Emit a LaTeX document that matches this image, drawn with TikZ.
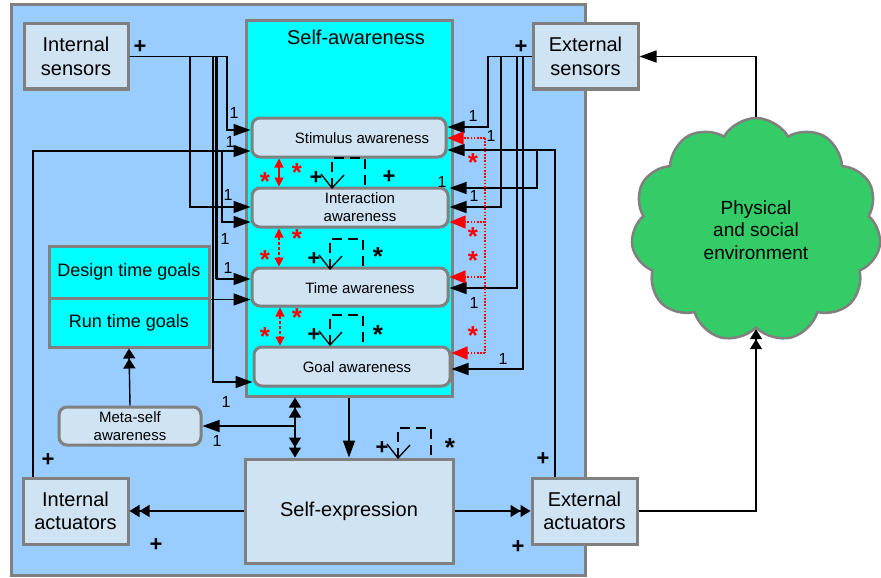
\documentclass[tikz,border=0pt]{standalone}
\usepackage{fontspec}
\setmainfont{Liberation Sans}
\usetikzlibrary{arrows.meta,shapes.symbols}
\definecolor{outerblue}{RGB}{153,204,255}
\definecolor{boxblue}{RGB}{207,227,243}
\definecolor{bordergray}{RGB}{128,128,128}
\definecolor{cloudgreen}{RGB}{51,204,102}
\definecolor{cyanfill}{RGB}{0,255,255}
\begin{document}
\begin{tikzpicture}[x=1pt,y=-1pt,
  frame/.style={draw=bordergray, line width=3pt, inner sep=0pt},
  box/.style={frame, fill=boxblue, align=center, font=\fontsize{20}{23.5}\selectfont},
  aw/.style={frame, fill=boxblue, rounded corners=8pt},
  awt/.style={font=\fontsize{15}{18}\selectfont, align=center, inner sep=0pt},
  conn/.style={line width=1.4pt},
  arr/.style={conn, -{Triangle[length=17pt,width=12pt]}},
  arrd/.style={conn, -{Triangle[length=10pt,width=12pt]Triangle[length=10pt,width=12pt]}},
  arrdd/.style={conn, {Triangle[length=10pt,width=12pt]Triangle[length=10pt,width=12pt]}-{Triangle[length=10pt,width=12pt]Triangle[length=10pt,width=12pt]}},
  rarr/.style={red, line width=1.2pt, dash pattern=on 1.6pt off 1.6pt, -{Triangle[length=16pt,width=13pt]}},
  rline/.style={red, line width=1.2pt, dash pattern=on 1.6pt off 1.6pt},
  rdarr/.style={red, line width=1.2pt, {Triangle[length=9pt,width=9pt]}-{Triangle[length=9pt,width=9pt]}},
  one/.style={font=\fontsize{16}{16}\selectfont, inner sep=0pt},
  plus/.style={font=\bfseries\fontsize{22}{22}\selectfont, inner sep=0pt},
  rstar/.style={text=red, font=\bfseries\fontsize{26}{26}\selectfont, inner sep=0pt},
  bstar/.style={font=\bfseries\fontsize{26}{26}\selectfont, inner sep=0pt},
  fbmark/.pic={
    \draw[line width=1.3pt] (-11,-14) -- (0,0) -- (12,-13);
    \draw[line width=1.1pt, dash pattern=on 10pt off 6pt] (0,0) -- (0,-30) -- (33,-30) -- (33,0);
    \node[plus] (-p) at (-16,-10) {+};
  }
]
\useasboundingbox (0,0) rectangle (881,578);

% containers
\node[frame, fill=outerblue, minimum width=574pt, minimum height=570pt] (outer) at (298,290) {};
\node[frame, fill=cyanfill, minimum width=206pt, minimum height=375pt] (sa) at (349,208.5) {};
\node[font=\fontsize{20}{24}\selectfont, inner sep=0pt] (satitle) at (356,37) {Self-awareness};

% boxes
\node[box, minimum width=104pt, minimum height=65pt] (isens) at (76,56.5) {Internal\\sensors};
\node[box, minimum width=105pt, minimum height=65pt] (esens) at (585.5,56.5) {External\\sensors};
\node[box, minimum width=105pt, minimum height=66pt] (iact) at (75.5,511) {Internal\\actuators};
\node[box, minimum width=105pt, minimum height=66pt] (eact) at (584.5,511) {External\\actuators};
\node[box, minimum width=208pt, minimum height=104pt, font=\fontsize{20}{24}\selectfont] (sexp) at (349,511) {Self-expression};
\node[frame, fill=cyanfill, minimum width=160pt, minimum height=52pt, font=\fontsize{18}{22}\selectfont] (dgoal) at (129,272) {Design time goals};
\node[frame, fill=cyanfill, minimum width=160pt, minimum height=49pt, font=\fontsize{18}{22}\selectfont] (rgoal) at (129,322.5) {Run time goals};

% awareness boxes
\node[aw, minimum width=194pt, minimum height=39pt] (stim) at (349,137.5) {};
\node[awt] (stimt) at (362,138) {Stimulus awareness};
\node[aw, minimum width=196pt, minimum height=39pt] (inter) at (350,207.5) {};
\node[awt] (intert) at (360,207.5) {Interaction\\awareness};
\node[aw, minimum width=196pt, minimum height=38pt] (time) at (350,287) {};
\node[awt] (timet) at (360,288) {Time awareness};
\node[aw, minimum width=196pt, minimum height=39pt] (goal) at (352,366.5) {};
\node[awt] (goalt) at (357,367) {Goal awareness};
\node[aw, minimum width=142pt, minimum height=38pt] (meta) at (130,426) {};
\node[awt] (metat) at (130,426) {Meta-self\\awareness};

% environment
\node[cloud, cloud puffs=11, cloud puff arc=120, aspect=1.1, draw=bordergray, line width=2.5pt,
      fill=cloudgreen, minimum width=250pt, minimum height=224pt, inner sep=0pt, align=center,
      font=\fontsize{19}{22.5}\selectfont] (env) at (756,230) {Physical\\and social\\environment};

% internal sensors
\draw[arr] (isens.east) -| (227,130) -- (stim.west |- 0,130);
\draw[arr] (isens.east) -| (190,207) -- (inter.west |- 0,207);
\draw[conn] (isens.east) -| (216,279);
\draw[arr] (isens.east) -| (217,279) -- (time.west |- 0,279);
\draw[arr] (isens.east) -| (213,382) -- (goal.west |- 0,382);
% internal actuators feedback
\draw[arr] (iact.north -| 33,0) |- (stim.west |- 0,151);
\draw[arr] (222,151) |- (inter.west |- 0,222);
% goals
\draw[arr] (dgoal.south east) -- (time.west |- dgoal.south east);
\draw[arrd] (meta.north) -- (rgoal.south);
% bottom
\draw[arrdd] (sa.south -| 295,0) -- (sexp.north -| 295,0);
\draw[arr] (295,426) -- (meta.east);
\draw[arr] (sa.south) -- (sexp.north);
\draw[arrd] (sexp.west) -- (iact.east);
\draw[arrd] (sexp.east) -- (eact.west);
\draw[arrd] (eact.east) -| (env.south);
\draw[arr] (env.north) |- (esens.east);

% external sensors
\draw[arr] (esens.west) -| (488,127) -- (stim.east |- 0,127);
\draw[arr] (esens.west) -| (501,207) -- (inter.east |- 0,207);
\draw[arr] (esens.west) -| (517,288) -- (time.east |- 0,288);
\draw[arr] (esens.west) -| (523,369) -- (goal.east |- 0,369);
% external actuators feedback
\draw[arr] (eact.north -| 555,0) |- (stim.east |- 0,150);
\draw[arr] (537,150) |- (inter.east |- 0,188);

% red dotted
\draw[rline] (485,138) -- (485,353);
\draw[rarr] (485,138) -- (stim.east |- 0,138);
\draw[rarr] (485,222) -- (inter.east |- 0,222);
\draw[rarr] (485,277) -- (time.east |- 0,277);
\draw[rarr] (485,353) -- (goal.east |- 0,353);

% red double arrows
\draw[rdarr] (stim.south -| 279,0) -- (inter.north -| 279,0);
\draw[rdarr, dash pattern=on 3pt off 2pt] (inter.south -| 279,0) -- (time.north -| 279,0);
\draw[rdarr, dash pattern=on 3pt off 2pt] (time.south -| 280,0) -- (goal.north -| 280,0);

% feedback marks
\pic (fa) at (332,188) {fbmark};
\pic (fb) at (330,269) {fbmark};
\pic (fc) at (330,345) {fbmark};
\pic (fd) at (398,458) {fbmark};
\node[plus] (pa) at (389,177) {+};
\node[bstar] (sb) at (378,257) {*};
\node[bstar] (sc) at (378,335) {*};
\node[bstar] (sd) at (450,448) {*};

% red stars
\node[rstar] (r1) at (265,182) {*};
\node[rstar] (r2) at (297,173) {*};
\node[rstar] (r3) at (265,260) {*};
\node[rstar] (r4) at (297,239) {*};
\node[rstar] (r5) at (265,337) {*};
\node[rstar] (r6) at (297,318) {*};
\node[rstar] (r7) at (473,163) {*};
\node[rstar] (r8) at (473,237) {*};
\node[rstar] (r9) at (473,261) {*};
\node[rstar] (r10) at (473,336) {*};

% plus signs
\node[plus] (p1) at (140,47) {+};
\node[plus] (p2) at (521,47) {+};
\node[plus] (p3) at (48,460) {+};
\node[plus] (p4) at (543,459) {+};
\node[plus] (p5) at (156,545) {+};
\node[plus] (p6) at (518,547) {+};

% multiplicities
\node[one] (o1) at (234,113) {1};
\node[one] (o2) at (230,142) {1};
\node[one] (o3) at (228,195) {1};
\node[one] (o4) at (225,239) {1};
\node[one] (o5) at (228,268) {1};
\node[one] (o6) at (226,402) {1};
\node[one] (o7) at (217,441) {1};
\node[one] (o8) at (473,116) {1};
\node[one] (o9) at (491,136) {1};
\node[one] (o10) at (442,182) {1};
\node[one] (o11) at (474,196) {1};
\node[one] (o12) at (474,303) {1};
\node[one] (o13) at (503,359) {1};
\end{tikzpicture}
\end{document}
